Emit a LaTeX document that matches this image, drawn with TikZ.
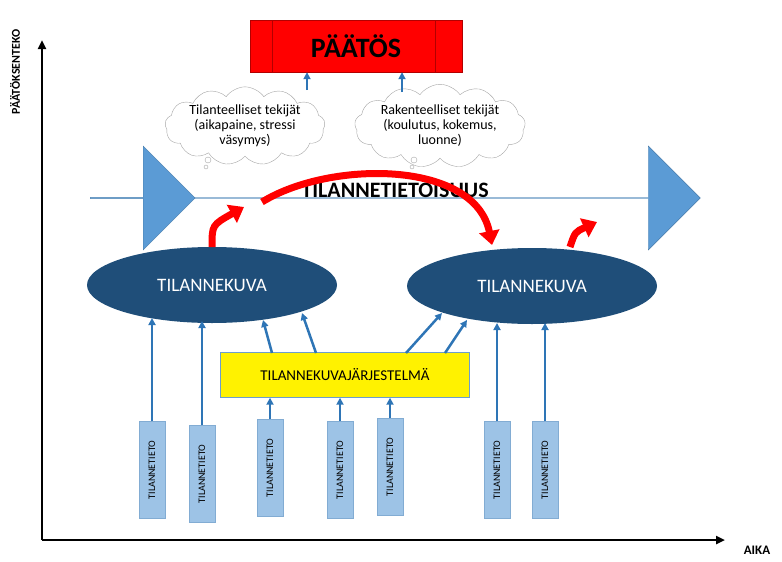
\documentclass[tikz,border=0pt]{standalone}
\usepackage{fontspec}
\setmainfont{Carlito}
\usetikzlibrary{arrows.meta,shapes.symbols,shapes.arrows,shapes.geometric}

\definecolor{arrowblue}{HTML}{5B9BD5}
\definecolor{linkblue}{HTML}{2E75B6}
\definecolor{darkblue}{HTML}{1F4E79}
\definecolor{infoblue}{HTML}{9DC3E6}

\begin{document}
\begin{tikzpicture}[x=1pt,y=-1pt,>={Triangle[width=7pt,length=7pt]},
    link/.style={->,linkblue,line width=2.5pt},
    redlink/.style={-{Triangle[width=20pt,length=14pt]},red,line width=7pt},
    info/.style={draw=linkblue!60,fill=infoblue,minimum width=26pt,minimum height=97pt,inner sep=0pt},
    infotext/.style={rotate=90,font=\fontsize{10}{12}\selectfont},
    view/.style={ellipse,fill=darkblue,text=white,minimum width=250pt,minimum height=76pt,font=\fontsize{19}{22}\selectfont},
    thought/.style={cloud,cloud puffs=13,cloud puff arc=110,aspect=2.6,draw=gray!70,fill=white,align=center,inner sep=0pt,font=\fontsize{14}{15}\selectfont}]

\useasboundingbox (0,0) rectangle (782,562);

% axes
\draw[-{Triangle[width=8pt,length=9pt]},line width=2.5pt] (42,540) -- (42,40);
\draw[-{Triangle[width=8pt,length=9pt]},line width=2.5pt] (42,540) -- (725,540);
\node[rotate=90,font=\bfseries\fontsize{12}{14}\selectfont] (yl) at (15,72) {PÄÄTÖKSENTEKO};
\node[font=\bfseries\fontsize{13}{15}\selectfont] (xl) at (757,550) {AIKA};

% decision
\node[draw=red!70!black,fill=red,minimum width=212pt,minimum height=52pt,font=\bfseries\fontsize{28}{30}\selectfont] (dec) at (356,46) {PÄÄTÖS};
\draw[red!70!black] (272,20) -- (272,72) (435,20) -- (435,72);

% awareness arrow
\node[single arrow,fill=arrowblue,draw=arrowblue!80!black,minimum width=104pt,single arrow head extend=22pt,
      single arrow head indent=0pt,minimum height=610pt,inner sep=0pt,anchor=west] (aware) at (90,198) {};
\node[single arrow,fill=arrowblue,draw=arrowblue!80!black,minimum width=104pt,single arrow head extend=22pt,
      minimum height=105pt,inner sep=0pt,anchor=west] (chev) at (90,198) {};
\node[font=\bfseries\fontsize{22}{24}\selectfont] (awaretext) at (395,190) {TILANNETIETOISUUS};

% thought clouds
\node[thought] (c1) at (245,126) {Tilanteelliset tekijät\\(aikapaine, stressi\\väsymys)};
\node[thought] (c2) at (440,126) {Rakenteelliset tekijät\\(koulutus, kokemus,\\luonne)};
\draw[gray!70,fill=white] (208,160) circle (3pt) (206,167) circle (2pt);
\draw[gray!70,fill=white] (414,160) circle (3pt) (412,167) circle (2pt);
\coordinate (c1top) at (307,90);
\coordinate (c2top) at (402,92);
\draw[link] (c1top) -- (c1top |- dec.south);
\draw[link] (c2top) -- (c2top |- dec.south);

% situation pictures
\node[view] (v1) at (212,285) {TILANNEKUVA};
\node[view] (v2) at (532,286) {TILANNEKUVA};

% system
\node[draw=linkblue!70,fill=yellow,minimum width=249pt,minimum height=45pt,font=\fontsize{15}{17}\selectfont] (sys) at (345,375) {TILANNEKUVAJÄRJESTELMÄ};

% information boxes
\foreach \name/\x/\y in {i1/152/470, i2/202/474, i3/270/468, i4/340/470, i5/390/467, i6/497/470, i7/545/470}
  \node[info] (\name) at (\x,\y) {} node[infotext] at (\x,\y) {TILANNETIETO};

\draw[link] (i1.north) -- (152,318);
\draw[link] (i2.north) -- (202,321);
\draw[link] (i6.north) -- (497,323);
\draw[link] (i7.north) -- (545,323);
\foreach \n in {i3,i4,i5}
  \draw[link] (\n.north) -- (\n.north |- sys.south);
\draw[link] (272,353) -- (263,320);
\draw[link] (316,353) -- (302,313);
\draw[link] (406,353) -- (442,313);
\draw[link] (445,353) -- (467,320);

% feedback
\draw[redlink] (212,247) .. controls (212,225) .. (244,207);
\draw[redlink] (262,202) .. controls (330,160) and (475,160) .. (492,245);
\draw[redlink] (570,247) .. controls (575,232) .. (597,222);
\end{tikzpicture}
\end{document}
